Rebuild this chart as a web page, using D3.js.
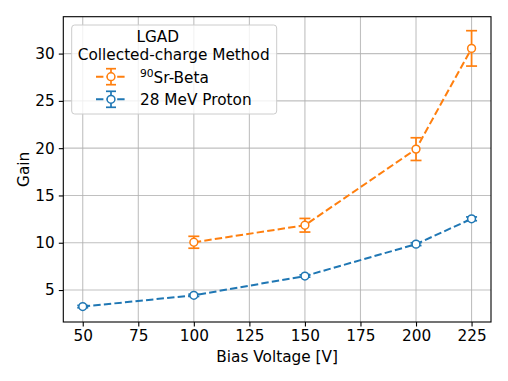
<!DOCTYPE html>
<html><head><meta charset="utf-8">
<script src="https://cdn.jsdelivr.net/npm/d3@7"></script>
<style>body{margin:0;background:#fff}svg{display:block;font-family:"DejaVu Sans",sans-serif}</style>
</head><body><svg id="c" width="508" height="381"></svg>
<script>
const betaVoltage = [100, 150, 200, 225];
const betaGain = [10.05, 11.85, 19.9, 30.55];
const betaErr = [0.63, 0.72, 1.2, 1.87];
const protonVoltage = [50, 100, 150, 200, 225];
const protonGain = [3.25, 4.44, 6.48, 9.85, 12.53];
const protonErr = [0.12, 0.12, 0.12, 0.15, 0.2];
const xTicks = [50, 75, 100, 125, 150, 175, 200, 225];
const yTicks = [5, 10, 15, 20, 25, 30];
const legendTitle = ["LGAD", "Collected-charge Method"];
const seriesNames = ["Sr-Beta", "28 MeV Proton"];
const colors = ["#ff7f0e", "#1f77b4"];

const FS = 15.3;
const svg = d3.select("#c");
const L = 63.3, R = 491, T = 16.7, B = 322;
const x = d3.scaleLinear().domain([41.25, 233.75]).range([L, R]);
const y = d3.scaleLinear().domain([1.62, 33.9]).range([B, T]);

// grid
const g = svg.append("g");
g.selectAll(".gx").data(xTicks).enter().append("line")
  .attr("x1", d => x(d)).attr("x2", d => x(d)).attr("y1", T).attr("y2", B)
  .attr("stroke", "#b0b0b0").attr("stroke-opacity", 0.8).attr("stroke-width", 1.1);
g.selectAll(".gy").data(yTicks).enter().append("line")
  .attr("y1", d => y(d)).attr("y2", d => y(d)).attr("x1", L).attr("x2", R)
  .attr("stroke", "#b0b0b0").attr("stroke-opacity", 0.8).attr("stroke-width", 1.1);

// axes
const xa = svg.append("g").attr("transform", `translate(0,${B})`)
  .call(d3.axisBottom(x).tickValues(xTicks).tickSize(4.5).tickPadding(4));
const ya = svg.append("g").attr("transform", `translate(${L},0)`)
  .call(d3.axisLeft(y).tickValues(yTicks).tickSize(4.5).tickPadding(4));
[xa, ya].forEach(a => {
  a.select(".domain").remove();
  a.selectAll("text").attr("font-size", FS).attr("fill", "#000").attr("font-family", "DejaVu Sans");
  a.selectAll("line").attr("stroke", "#000").attr("stroke-width", 1.1);
});
svg.append("rect").attr("x", L).attr("y", T).attr("width", R - L).attr("height", B - T)
  .attr("fill", "none").attr("stroke", "#000").attr("stroke-width", 1.1);

svg.append("text").attr("x", (L + R) / 2).attr("y", 361.5).attr("text-anchor", "middle")
  .attr("font-size", FS).text("Bias Voltage [V]");
svg.append("text").attr("transform", `translate(28.5,${(T + B) / 2}) rotate(-90)`)
  .attr("text-anchor", "middle").attr("font-size", FS).text("Gain");

function drawSeries(xs, ys, es, color) {
  const s = svg.append("g");
  const pts = xs.map((v, i) => ({ x: v, y: ys[i], e: es[i] }));
  const eb = s.selectAll(".eb").data(pts).enter().append("g");
  eb.append("line").attr("x1", d => x(d.x)).attr("x2", d => x(d.x))
    .attr("y1", d => y(d.y - d.e)).attr("y2", d => y(d.y + d.e))
    .attr("stroke", color).attr("stroke-width", 1.7);
  [-1, 1].forEach(sg => eb.append("line").attr("x1", d => x(d.x) - 5.5).attr("x2", d => x(d.x) + 5.5)
    .attr("y1", d => y(d.y + sg * d.e)).attr("y2", d => y(d.y + sg * d.e))
    .attr("stroke", color).attr("stroke-width", 1.7));
  s.append("path").datum(pts).attr("d", d3.line().x(d => x(d.x)).y(d => y(d.y)))
    .attr("fill", "none").attr("stroke", color).attr("stroke-width", 2)
    .attr("stroke-dasharray", "7.4,3.2");
  s.selectAll("circle").data(pts).enter().append("circle")
    .attr("cx", d => x(d.x)).attr("cy", d => y(d.y)).attr("r", 3.9)
    .attr("fill", "#fff").attr("stroke", color).attr("stroke-width", 1.5);
}
drawSeries(betaVoltage, betaGain, betaErr, colors[0]);
drawSeries(protonVoltage, protonGain, protonErr, colors[1]);

// legend
const lg = svg.append("g");
lg.append("rect").attr("x", 71.7).attr("y", 25).attr("width", 205).attr("height", 89).attr("rx", 3)
  .attr("fill", "#fff").attr("fill-opacity", 0.8).attr("stroke", "#cccccc").attr("stroke-width", 1);
const titleX = [157.8, 173.7];
legendTitle.forEach((t, i) => lg.append("text").attr("x", titleX[i]).attr("y", 42.3 + i * 17.7)
  .attr("text-anchor", "middle").attr("font-size", FS).text(t));
const entryY = [76.7, 99.3];
entryY.forEach((ey, i) => {
  const c = colors[i];
  lg.append("line").attr("x1", 96).attr("x2", 127).attr("y1", ey).attr("y2", ey)
    .attr("stroke", c).attr("stroke-width", 2).attr("stroke-dasharray", "7.4,3.2");
  lg.append("line").attr("x1", 111).attr("x2", 111).attr("y1", ey - 8).attr("y2", ey + 8)
    .attr("stroke", c).attr("stroke-width", 1.7);
  [-8, 8].forEach(o => lg.append("line").attr("x1", 106).attr("x2", 116).attr("y1", ey + o).attr("y2", ey + o)
    .attr("stroke", c).attr("stroke-width", 1.7));
  lg.append("circle").attr("cx", 111).attr("cy", ey).attr("r", 3.9)
    .attr("fill", "#fff").attr("stroke", c).attr("stroke-width", 1.5);
  const t = lg.append("text").attr("x", 140).attr("y", ey + 6).attr("font-size", FS);
  if (i === 0) {
    t.append("tspan").attr("font-size", 10.7).attr("dy", -5.5).text("90");
    t.append("tspan").attr("dy", 5.5).text(seriesNames[i]);
  } else t.text(seriesNames[i]);
});
</script></body></html>
